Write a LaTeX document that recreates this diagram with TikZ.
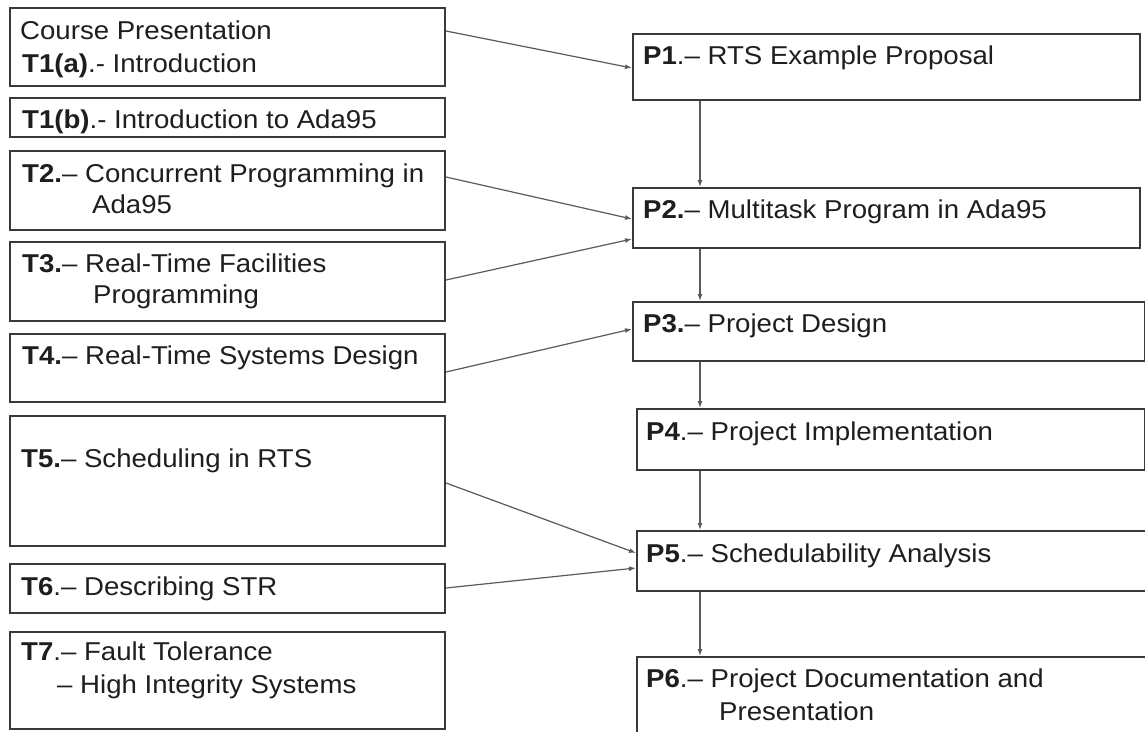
\documentclass[tikz,border=0pt]{standalone}
\usepackage{fontspec}
\setmainfont{Liberation Sans}[FakeStretch=1.07]
\usetikzlibrary{arrows.meta,calc}
\definecolor{boxline}{HTML}{3A3A3A}
\definecolor{arrline}{HTML}{5A5A5A}
\definecolor{txtc}{HTML}{1E1E1E}
\tikzset{
  box/.style={draw=boxline, line width=2pt, anchor=north west, inner sep=0pt, fill=white},
  lbl/.style={anchor=base west, inner sep=0pt, text=txtc, font=\fontsize{25.8}{33}\selectfont},
  conn/.style={draw=arrline, line width=1.2pt, -{Latex[length=7pt,width=5pt]}},
}
\begin{document}
\begin{tikzpicture}[x=1pt,y=-1pt]
\useasboundingbox (0,0) rectangle (1145,731);
\clip (0,0) rectangle (1145,731);
% left boxes
\node[box, minimum width=435pt, minimum height=78pt] (t1a) at (9,7) {};
\node[box, minimum width=435pt, minimum height=39pt] (t1b) at (9,97) {};
\node[box, minimum width=435pt, minimum height=79pt] (t2) at (9,150) {};
\node[box, minimum width=435pt, minimum height=79pt] (t3) at (9,241) {};
\node[box, minimum width=435pt, minimum height=68pt] (t4) at (9,333) {};
\node[box, minimum width=435pt, minimum height=130pt] (t5) at (9,415) {};
\node[box, minimum width=435pt, minimum height=49pt] (t6) at (9,563) {};
\node[box, minimum width=435pt, minimum height=97pt] (t7) at (9,631) {};
% right boxes
\node[box, minimum width=507pt, minimum height=66pt] (p1) at (632,33) {};
\node[box, minimum width=507pt, minimum height=60pt] (p2) at (632,187) {};
\node[box, minimum width=512pt, minimum height=59pt] (p3) at (632,301) {};
\node[box, minimum width=508pt, minimum height=61pt] (p4) at (636,408) {};
\node[box, minimum width=530pt, minimum height=60pt] (p5) at (636,530) {};
\node[box, minimum width=530pt, minimum height=100pt] (p6) at (636,656) {};
% left texts
\node[lbl] (l1) at (20,39) {Course Presentation};
\node[lbl] (l2) at (22,72) {\textbf{T1(a)}.- Introduction};
\node[lbl] (l3) at (22,128) {\textbf{T1(b)}.- Introduction to Ada95};
\node[lbl] (l4) at (22,182) {\textbf{T2.}– Concurrent Programming in};
\node[lbl] (l5) at (92,213) {Ada95};
\node[lbl] (l6) at (22,272) {\textbf{T3.}– Real-Time Facilities};
\node[lbl] (l7) at (93,303) {Programming};
\node[lbl] (l8) at (22,364) {\textbf{T4.}– Real-Time Systems Design};
\node[lbl] (l9) at (21,467) {\textbf{T5.}– Scheduling in RTS};
\node[lbl] (l10) at (21,595) {\textbf{T6}.– Describing STR};
\node[lbl] (l11) at (21,660) {\textbf{T7}.– Fault Tolerance};
\node[lbl] (l12) at (57,693) {– High Integrity Systems};
% right texts
\node[lbl] (r1) at (643,64) {\textbf{P1}.– RTS Example Proposal};
\node[lbl] (r2) at (643,218) {\textbf{P2.}– Multitask Program in Ada95};
\node[lbl] (r3) at (643,332) {\textbf{P3.}– Project Design};
\node[lbl] (r4) at (646,440) {\textbf{P4}.– Project Implementation};
\node[lbl] (r5) at (646,562) {\textbf{P5}.– Schedulability Analysis};
\node[lbl] (r6) at (646,687) {\textbf{P6}.– Project Documentation and};
\node[lbl] (r7) at (719,720) {Presentation};
% connectors left to right
\draw[conn] ($(t1a.north east)+(0,24)$) -- ($(p1.north west)+(0,35)$);
\draw[conn] ($(t2.north east)+(0,27)$) -- ($(p2.north west)+(0,32)$);
\draw[conn] ($(t3.north east)+(0,39)$) -- ($(p2.north west)+(0,52)$);
\draw[conn] ($(t4.north east)+(0,39)$) -- ($(p3.north west)+(0,28)$);
\draw[conn] ($(t5.north east)+(0,68)$) -- ($(p5.north west)+(0,23)$);
\draw[conn] ($(t6.north east)+(0,25)$) -- ($(p5.north west)+(0,38)$);
% vertical chain
\draw[conn] ($(p1.south west)+(68,0)$) -- ($(p2.north west)+(68,0)$);
\draw[conn] ($(p2.south west)+(68,0)$) -- ($(p3.north west)+(68,0)$);
\draw[conn] ($(p3.south west)+(68,0)$) -- ($(p4.north west)+(64,0)$);
\draw[conn] ($(p4.south west)+(64,0)$) -- ($(p5.north west)+(64,0)$);
\draw[conn] ($(p5.south west)+(64,0)$) -- ($(p6.north west)+(64,0)$);
\end{tikzpicture}
\end{document}
